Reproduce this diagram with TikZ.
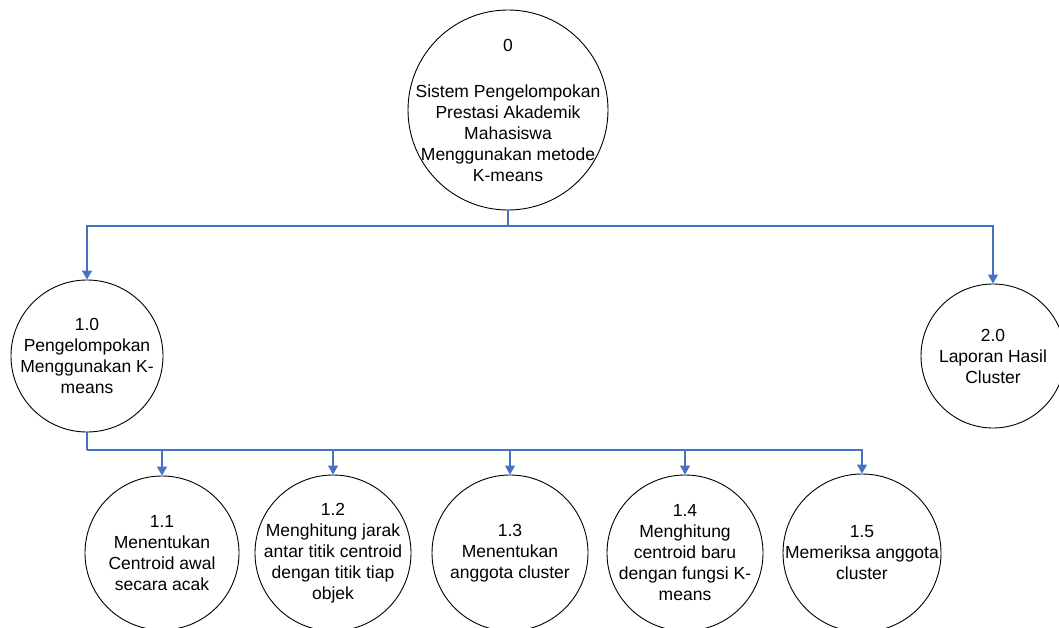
\documentclass[tikz,border=0pt]{standalone}
\usepackage{fontspec}
\setmainfont{Liberation Sans}
\usetikzlibrary{arrows.meta}
\definecolor{flowblue}{HTML}{4472C4}
\tikzset{
  proc/.style={circle, draw=black, line width=0.9pt, fill=white, inner sep=0pt, minimum size=#1},
  txt/.style={align=center, inner sep=0pt, font=\fontsize{17.5}{21}\selectfont},
  flow/.style={draw=flowblue, line width=1.2pt},
  flowarrow/.style={flow, -{Triangle[length=9pt,width=10pt]}},
}
\begin{document}
\begin{tikzpicture}[x=1pt,y=-1pt]
\useasboundingbox (0,0) rectangle (1059,628);
\clip (0,0) rectangle (1059,628);

% top-level process
\node[proc=200pt, label={[txt]center:{0\\[25pt]Sistem Pengelompokan\\Prestasi Akademik\\Mahasiswa\\Menggunakan metode\\K-means}}] (c0) at (508,110) {};

% level 1 processes
\node[proc=152pt, label={[txt]center:{1.0\\Pengelompokan\\Menggunakan K-\\means}}] (c10) at (87,356) {};
\node[proc=144pt, label={[txt]center:{2.0\\Laporan Hasil\\Cluster}}] (c20) at (993,356) {};

% level 2 processes
\node[proc=154pt, label={[txt]center:{1.1\\Menentukan\\Centroid awal\\secara acak}}] (c11) at (162,553) {};
\node[proc=156pt, label={[txt]center:{1.2\\Menghitung jarak\\antar titik centroid\\dengan titik tiap\\objek}}] (c12) at (333,553) {};
\node[proc=156pt, label={[txt]center:{1.3\\Menentukan\\anggota cluster}}] (c13) at (510,553) {};
\node[proc=156pt, label={[txt]center:{1.4\\Menghitung\\centroid baru\\dengan fungsi K-\\means}}] (c14) at (685,553) {};
\node[proc=158pt, label={[txt]center:{1.5\\Memeriksa anggota\\cluster}}] (c15) at (862,553) {};

% junction points of the tree
\coordinate (j0) at (508,226);
\coordinate (j1) at (87,450);

% connectors
\draw[flow] (c0.south) -- (j0);
\draw[flowarrow] (j0) -| (c10.north);
\draw[flowarrow] (j0) -| (c20.north);

\draw[flow] (c10.south) -- (j1);
\draw[flowarrow] (j1) -| (c11.north);
\draw[flowarrow] (j1) -| (c12.north);
\draw[flowarrow] (j1) -| (c13.north);
\draw[flowarrow] (j1) -| (c14.north);
\draw[flowarrow] (j1) -| (c15.north);
\end{tikzpicture}
\end{document}
